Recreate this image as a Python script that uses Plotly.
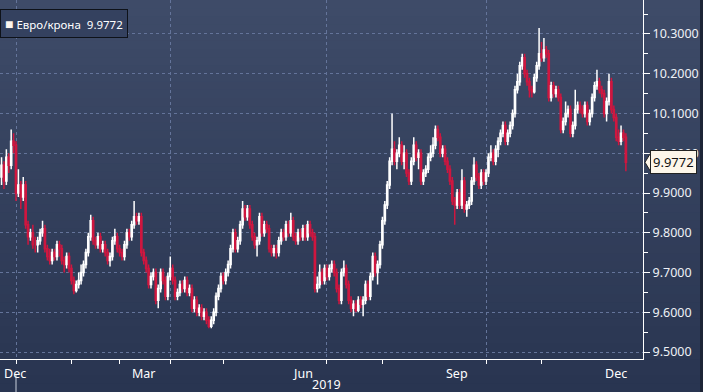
import plotly.graph_objects as go
import pandas as pd

SERIES_NAME = "Евро/крона"
LAST_LABEL = "9.9772"
START_DATE = "2018-12-24"

OPEN = [
    9.94, 9.97, 9.93, 9.99, 9.97,
    10.03, 10.02, 9.90, 9.92, 9.89,
    9.92, 9.82, 9.79, 9.80, 9.77,
    9.77, 9.78, 9.80, 9.81, 9.76,
    9.74, 9.73, 9.75, 9.74, 9.77,
    9.76, 9.73, 9.72, 9.74, 9.71,
    9.68, 9.655, 9.67, 9.68, 9.70,
    9.72, 9.75, 9.79, 9.83, 9.78,
    9.77, 9.79, 9.76, 9.77, 9.75,
    9.73, 9.74, 9.78, 9.79, 9.76,
    9.75, 9.74, 9.77, 9.80, 9.79,
    9.82, 9.84, 9.83, 9.84, 9.75,
    9.73, 9.71, 9.67, 9.69, 9.70,
    9.63, 9.66, 9.70, 9.68, 9.64,
    9.69, 9.71, 9.68, 9.64, 9.65,
    9.67, 9.66, 9.68, 9.65, 9.66,
    9.61, 9.63, 9.60, 9.61, 9.59,
    9.60, 9.58, 9.565, 9.58, 9.60,
    9.64, 9.66, 9.69, 9.68, 9.70,
    9.72, 9.76, 9.80, 9.76, 9.78,
    9.82, 9.86, 9.84, 9.86, 9.82,
    9.79, 9.77, 9.78, 9.84, 9.80,
    9.82, 9.81, 9.76, 9.75, 9.76,
    9.75, 9.78, 9.80, 9.79, 9.82,
    9.80, 9.83, 9.79, 9.78, 9.80,
    9.79, 9.81, 9.79, 9.82, 9.80,
    9.79, 9.66, 9.67, 9.70, 9.68,
    9.71, 9.69, 9.71, 9.72, 9.70,
    9.66, 9.63, 9.70, 9.71, 9.67,
    9.63, 9.61, 9.62, 9.605, 9.63,
    9.62, 9.63, 9.67, 9.64, 9.69,
    9.74, 9.70, 9.72, 9.77, 9.83,
    9.87, 9.92, 9.98, 10.01, 9.98,
    10.00, 10.02, 9.98, 10.00, 9.95,
    9.93, 9.98, 10.02, 9.99, 10.00,
    9.93, 9.95, 9.96, 9.99, 10.00,
    10.02, 10.06, 10.04, 10.00, 10.01,
    9.98, 9.96, 9.93, 9.88, 9.87,
    9.90, 9.87, 9.93, 9.86, 9.87,
    9.88, 9.93, 9.97, 9.94, 9.92,
    9.95, 9.93, 9.95, 9.99, 10.00,
    9.98, 10.01, 10.03, 10.05, 10.07,
    10.03, 10.05, 10.07, 10.10, 10.16,
    10.18, 10.22, 10.24, 10.20, 10.18,
    10.16, 10.155, 10.19, 10.22, 10.25,
    10.24, 10.26, 10.25, 10.14, 10.17,
    10.15, 10.16, 10.14, 10.06, 10.08,
    10.10, 10.11, 10.05, 10.07, 10.11,
    10.12, 10.11, 10.10, 10.12, 10.08,
    10.10, 10.14, 10.17, 10.18, 10.16,
    10.15, 10.10, 10.13, 10.18, 10.11,
    10.09, 10.04, 10.03, 10.05, 10.04,
]

HIGH = [
    9.99, 9.98, 10.01, 10.00, 10.06,
    10.05, 10.03, 9.96, 9.93, 9.94,
    9.93, 9.83, 9.81, 9.82, 9.79,
    9.79, 9.81, 9.83, 9.82, 9.77,
    9.76, 9.76, 9.76, 9.78, 9.78,
    9.77, 9.74, 9.75, 9.75, 9.72,
    9.69, 9.68, 9.70, 9.72, 9.73,
    9.76, 9.80, 9.845, 9.84, 9.79,
    9.80, 9.80, 9.78, 9.78, 9.76,
    9.75, 9.79, 9.81, 9.80, 9.77,
    9.76, 9.78, 9.81, 9.81, 9.83,
    9.88, 9.85, 9.85, 9.85, 9.76,
    9.74, 9.72, 9.70, 9.71, 9.71,
    9.67, 9.71, 9.71, 9.69, 9.70,
    9.74, 9.72, 9.69, 9.66, 9.68,
    9.68, 9.69, 9.69, 9.67, 9.67,
    9.64, 9.64, 9.62, 9.62, 9.61,
    9.61, 9.59, 9.59, 9.61, 9.65,
    9.67, 9.70, 9.70, 9.71, 9.73,
    9.77, 9.81, 9.81, 9.79, 9.83,
    9.88, 9.87, 9.87, 9.87, 9.83,
    9.80, 9.79, 9.85, 9.85, 9.83,
    9.83, 9.82, 9.77, 9.77, 9.77,
    9.79, 9.81, 9.81, 9.83, 9.83,
    9.85, 9.84, 9.80, 9.81, 9.81,
    9.82, 9.82, 9.83, 9.83, 9.81,
    9.80, 9.69, 9.72, 9.71, 9.72,
    9.72, 9.72, 9.73, 9.73, 9.71,
    9.67, 9.71, 9.73, 9.72, 9.68,
    9.64, 9.63, 9.63, 9.64, 9.64,
    9.64, 9.68, 9.68, 9.70, 9.75,
    9.75, 9.73, 9.78, 9.84, 9.88,
    9.93, 9.99, 10.10, 10.03, 10.01,
    10.04, 10.03, 10.02, 10.01, 9.96,
    9.99, 10.04, 10.03, 10.01, 10.01,
    9.96, 9.97, 10.00, 10.02, 10.04,
    10.07, 10.07, 10.05, 10.02, 10.02,
    9.99, 9.97, 9.94, 9.89, 9.91,
    9.91, 9.96, 9.94, 9.88, 9.89,
    9.94, 9.99, 9.98, 9.95, 9.96,
    9.96, 9.96, 10.00, 10.02, 10.01,
    10.02, 10.04, 10.06, 10.08, 10.08,
    10.06, 10.08, 10.11, 10.17, 10.20,
    10.23, 10.25, 10.25, 10.21, 10.19,
    10.17, 10.20, 10.23, 10.315, 10.28,
    10.29, 10.27, 10.26, 10.18, 10.18,
    10.17, 10.17, 10.15, 10.09, 10.13,
    10.12, 10.12, 10.08, 10.16, 10.13,
    10.13, 10.12, 10.13, 10.13, 10.11,
    10.15, 10.18, 10.21, 10.19, 10.17,
    10.16, 10.14, 10.20, 10.19, 10.12,
    10.10, 10.06, 10.07, 10.06, 10.05,
]

LOW = [
    9.92, 9.91, 9.92, 9.95, 9.96,
    10.00, 9.88, 9.89, 9.86, 9.88,
    9.81, 9.77, 9.78, 9.76, 9.75,
    9.75, 9.77, 9.79, 9.75, 9.73,
    9.72, 9.72, 9.73, 9.73, 9.74,
    9.72, 9.70, 9.71, 9.70, 9.67,
    9.645, 9.65, 9.66, 9.67, 9.69,
    9.71, 9.74, 9.78, 9.77, 9.76,
    9.76, 9.75, 9.75, 9.74, 9.72,
    9.715, 9.73, 9.77, 9.75, 9.74,
    9.73, 9.73, 9.76, 9.78, 9.78,
    9.81, 9.82, 9.82, 9.74, 9.72,
    9.70, 9.66, 9.66, 9.68, 9.62,
    9.61, 9.65, 9.67, 9.63, 9.63,
    9.68, 9.67, 9.63, 9.63, 9.64,
    9.65, 9.65, 9.64, 9.64, 9.60,
    9.60, 9.59, 9.59, 9.58, 9.58,
    9.57, 9.56, 9.56, 9.57, 9.59,
    9.63, 9.65, 9.67, 9.67, 9.69,
    9.71, 9.75, 9.75, 9.75, 9.77,
    9.81, 9.83, 9.83, 9.81, 9.78,
    9.76, 9.74, 9.77, 9.79, 9.79,
    9.80, 9.75, 9.74, 9.74, 9.735,
    9.74, 9.77, 9.78, 9.78, 9.79,
    9.79, 9.78, 9.77, 9.77, 9.78,
    9.78, 9.78, 9.78, 9.79, 9.78,
    9.65, 9.65, 9.66, 9.67, 9.67,
    9.68, 9.68, 9.70, 9.69, 9.65,
    9.62, 9.62, 9.69, 9.66, 9.62,
    9.60, 9.59, 9.60, 9.60, 9.61,
    9.59, 9.62, 9.63, 9.63, 9.68,
    9.69, 9.67, 9.71, 9.76, 9.82,
    9.86, 9.91, 9.97, 9.97, 9.96,
    9.99, 9.97, 9.96, 9.94, 9.92,
    9.92, 9.97, 9.98, 9.96, 9.92,
    9.92, 9.94, 9.95, 9.98, 9.99,
    10.01, 10.03, 9.99, 9.99, 9.97,
    9.95, 9.92, 9.87, 9.82, 9.86,
    9.86, 9.86, 9.85, 9.84, 9.86,
    9.87, 9.92, 9.93, 9.91, 9.91,
    9.92, 9.92, 9.94, 9.98, 9.97,
    9.97, 9.99, 10.02, 10.04, 10.02,
    10.02, 10.04, 10.06, 10.09, 10.15,
    10.17, 10.21, 10.19, 10.17, 10.14,
    10.14, 10.15, 10.18, 10.21, 10.23,
    10.23, 10.24, 10.13, 10.13, 10.14,
    10.14, 10.13, 10.05, 10.05, 10.07,
    10.09, 10.04, 10.04, 10.06, 10.10,
    10.10, 10.09, 10.09, 10.07, 10.07,
    10.09, 10.13, 10.16, 10.15, 10.14,
    10.09, 10.08, 10.12, 10.10, 10.08,
    10.03, 10.02, 10.02, 10.03, 9.955,
]

CLOSE = [
    9.97, 9.93, 9.99, 9.97, 10.03,
    10.02, 9.90, 9.92, 9.89, 9.92,
    9.82, 9.79, 9.80, 9.77, 9.77,
    9.78, 9.80, 9.81, 9.76, 9.74,
    9.73, 9.75, 9.74, 9.77, 9.76,
    9.73, 9.72, 9.74, 9.71, 9.68,
    9.655, 9.67, 9.68, 9.70, 9.72,
    9.75, 9.79, 9.83, 9.78, 9.77,
    9.79, 9.76, 9.77, 9.75, 9.73,
    9.74, 9.78, 9.79, 9.76, 9.75,
    9.74, 9.77, 9.80, 9.79, 9.82,
    9.84, 9.83, 9.84, 9.75, 9.73,
    9.71, 9.67, 9.69, 9.70, 9.63,
    9.66, 9.70, 9.68, 9.64, 9.69,
    9.71, 9.68, 9.64, 9.65, 9.67,
    9.66, 9.68, 9.65, 9.66, 9.61,
    9.63, 9.60, 9.61, 9.59, 9.60,
    9.58, 9.565, 9.58, 9.60, 9.64,
    9.66, 9.69, 9.68, 9.70, 9.72,
    9.76, 9.80, 9.76, 9.78, 9.82,
    9.86, 9.84, 9.86, 9.82, 9.79,
    9.77, 9.78, 9.84, 9.80, 9.82,
    9.81, 9.76, 9.75, 9.76, 9.75,
    9.78, 9.80, 9.79, 9.82, 9.80,
    9.83, 9.79, 9.78, 9.80, 9.79,
    9.81, 9.79, 9.82, 9.80, 9.79,
    9.66, 9.67, 9.70, 9.68, 9.71,
    9.69, 9.71, 9.72, 9.70, 9.66,
    9.63, 9.70, 9.71, 9.67, 9.63,
    9.61, 9.62, 9.605, 9.63, 9.62,
    9.63, 9.67, 9.64, 9.69, 9.74,
    9.70, 9.72, 9.77, 9.83, 9.87,
    9.92, 9.98, 10.01, 9.98, 10.00,
    10.02, 9.98, 10.00, 9.95, 9.93,
    9.98, 10.02, 9.99, 10.00, 9.93,
    9.95, 9.96, 9.99, 10.00, 10.02,
    10.06, 10.04, 10.00, 10.01, 9.98,
    9.96, 9.93, 9.88, 9.87, 9.90,
    9.87, 9.93, 9.86, 9.87, 9.88,
    9.93, 9.97, 9.94, 9.92, 9.95,
    9.93, 9.95, 9.99, 10.00, 9.98,
    10.01, 10.03, 10.05, 10.07, 10.03,
    10.05, 10.07, 10.10, 10.16, 10.18,
    10.22, 10.24, 10.20, 10.18, 10.16,
    10.155, 10.19, 10.22, 10.25, 10.24,
    10.26, 10.25, 10.14, 10.17, 10.15,
    10.16, 10.14, 10.06, 10.08, 10.10,
    10.11, 10.05, 10.07, 10.11, 10.12,
    10.11, 10.10, 10.12, 10.08, 10.10,
    10.14, 10.17, 10.18, 10.16, 10.15,
    10.10, 10.13, 10.18, 10.11, 10.09,
    10.04, 10.03, 10.05, 10.04, 9.9772,
]

Y_TICKS = [9.5, 9.6, 9.7, 9.8, 9.9, 10.0, 10.1, 10.2, 10.3]
Y_TICK_TEXT = ["9.5000", "9.6000", "9.7000", "9.8000", "9.9000",
               "10.0000", "10.1000", "10.2000", "10.3000"]
QUARTER_STARTS = ["2019-01-01", "2019-04-01", "2019-07-01", "2019-10-01"]
MONTH_STARTS = ["2019-01-01", "2019-02-01", "2019-03-01", "2019-04-01",
                "2019-05-01", "2019-06-01", "2019-07-01", "2019-08-01",
                "2019-09-01", "2019-10-01", "2019-11-01", "2019-12-01"]
MONTH_LABELS = ["Mar", "Jun", "Sep", "Dec"]
MONTH_LABEL_DATES = ["2019-03-15", "2019-06-15", "2019-09-15", "2019-12-16"]
FIRST_LABEL = "Dec"
YEAR_LABEL = "2019"
YEAR_LABEL_DATE = "2019-07-01"
YEAR_START = "2019-01-01"
X_RANGE = ["2018-12-21 08:40", "2019-12-31 02:30"]
Y_RANGE = [9.4824, 10.3855]

FONT = "Noto Sans, Liberation Sans, Arial, sans-serif"
W, H = 703, 392
ML, MR, MT, MB = 0, 60, 0, 33
PW, PH = W - ML - MR, H - MT - MB

dates = pd.bdate_range(START_DATE, periods=len(CLOSE))

fig = go.Figure(go.Candlestick(
    x=dates, open=OPEN, high=HIGH, low=LOW, close=CLOSE,
    increasing=dict(line=dict(color="#ffffff", width=1.5), fillcolor="#ffffff"),
    decreasing=dict(line=dict(color="#cf163f", width=1.5), fillcolor="#9a2750"),
    whiskerwidth=0, showlegend=False, hoverinfo="skip",
))

# background gradient bands
shapes = []
N = 48
top = (62, 75, 104)
bot = (41, 53, 81)
y_lo = -MB / PH
y_hi = 1.0
x_hi = (W - ML) / PW
for i in range(N):
    t = i / (N - 1)
    c = tuple(round(bot[k] + (top[k] - bot[k]) * t) for k in range(3))
    shapes.append(dict(type="rect", xref="paper", yref="paper",
                       x0=0, x1=x_hi, y0=y_lo + (y_hi - y_lo) * i / N,
                       y1=y_lo + (y_hi - y_lo) * (i + 1) / N + 0.002,
                       line=dict(width=0), fillcolor="rgb(%d,%d,%d)" % c,
                       layer="below"))
# dark strip at far right
shapes.append(dict(type="rect", xref="paper", yref="paper",
                   x0=(W - 3) / PW, x1=x_hi, y0=y_lo, y1=1,
                   line=dict(width=0), fillcolor="#1d2436", layer="below"))
# year separator
shapes.append(dict(type="line", xref="x", yref="paper",
                   x0=YEAR_START, x1=YEAR_START, y0=-16 / PH, y1=y_lo,
                   line=dict(color="#c9d0dc", width=1)))
# last value pointer
last = CLOSE[-1]
shapes.append(dict(type="path", xref="paper", yref="y",
                   path="M %f,%f L %f,%f L %f,%f Z" % (
                       1 + 2 / PW, last, 1 + 8 / PW, last + 0.025,
                       1 + 8 / PW, last - 0.025),
                   fillcolor="#fdf6ea", line=dict(color="#222222", width=1),
                   layer="above"))

annotations = []
annotations.append(dict(
    xref="paper", yref="y", x=1, y=last, xanchor="left", yanchor="middle",
    xshift=7, text=LAST_LABEL, showarrow=False,
    font=dict(family=FONT, size=13, color="#111111"),
    bgcolor="#fdf6ea", bordercolor="#222222", borderwidth=1, borderpad=2))
annotations.append(dict(
    xref="paper", yref="paper", x=0, y=1, xanchor="left", yanchor="top",
    yshift=-9, showarrow=False,
    text="<span style='color:#fdf6ee;font-size:14px'>■</span> " + SERIES_NAME + "  " + LAST_LABEL,
    font=dict(family=FONT, size=11.5, color="#ffffff"),
    bgcolor="#34415f", bordercolor="#0e1219", borderwidth=1, borderpad=4))
annotations.append(dict(
    xref="paper", yref="paper", x=0, y=0, xanchor="left", yanchor="top",
    xshift=2, yshift=-4, text=FIRST_LABEL, showarrow=False,
    font=dict(family=FONT, size=12.5, color="#ffffff")))
for lbl, d in zip(MONTH_LABELS, MONTH_LABEL_DATES):
    annotations.append(dict(
        xref="x", yref="paper", x=d, y=0, xanchor="center", yanchor="top",
        yshift=-4, text=lbl, showarrow=False,
        font=dict(family=FONT, size=12.5, color="#ffffff")))
annotations.append(dict(
    xref="x", yref="paper", x=YEAR_LABEL_DATE, y=0, xanchor="center",
    yanchor="top", yshift=-15, text=YEAR_LABEL, showarrow=False,
    font=dict(family=FONT, size=12.5, color="#ffffff")))

fig.update_layout(
    width=W, height=H,
    margin=dict(l=ML, r=MR, t=MT, b=MB, pad=0),
    paper_bgcolor="#33405d", plot_bgcolor="rgba(0,0,0,0)",
    shapes=shapes, annotations=annotations,
    font=dict(family=FONT, color="#ffffff"),
    xaxis=dict(
        type="date", range=X_RANGE,
        rangebreaks=[dict(bounds=["sat", "mon"])],
        rangeslider=dict(visible=False),
        tickmode="array", tickvals=QUARTER_STARTS, showticklabels=False,
        ticks="outside", ticklen=4, tickcolor="#ffffff", tickwidth=1,
        showgrid=True, gridcolor="#64749a", griddash="dot", gridwidth=1,
        showline=True, linecolor="#ffffff", linewidth=1, zeroline=False,
        minor=dict(tickmode="array", tickvals=MONTH_STARTS, ticks="outside",
                   ticklen=4, tickcolor="#ffffff", showgrid=False),
        fixedrange=True,
    ),
    yaxis=dict(
        side="right", range=Y_RANGE,
        tickmode="array", tickvals=Y_TICKS, ticktext=Y_TICK_TEXT,
        ticks="outside", ticklen=6, tickcolor="#ffffff", tickwidth=1,
        tickfont=dict(family=FONT, size=12.5, color="#eef1f6"),
        showgrid=True, gridcolor="#64749a", griddash="dot", gridwidth=1,
        showline=True, linecolor="#ffffff", linewidth=1, zeroline=False,
        minor=dict(dtick=0.05, tick0=9.45, ticks="outside", ticklen=4,
                   tickcolor="#ffffff", showgrid=False),
        fixedrange=True,
    ),
)

fig.write_html("out.html", config={"displayModeBar": False},
               post_script="document.body.style.margin='0';"
                           "document.body.style.overflow='hidden';")
